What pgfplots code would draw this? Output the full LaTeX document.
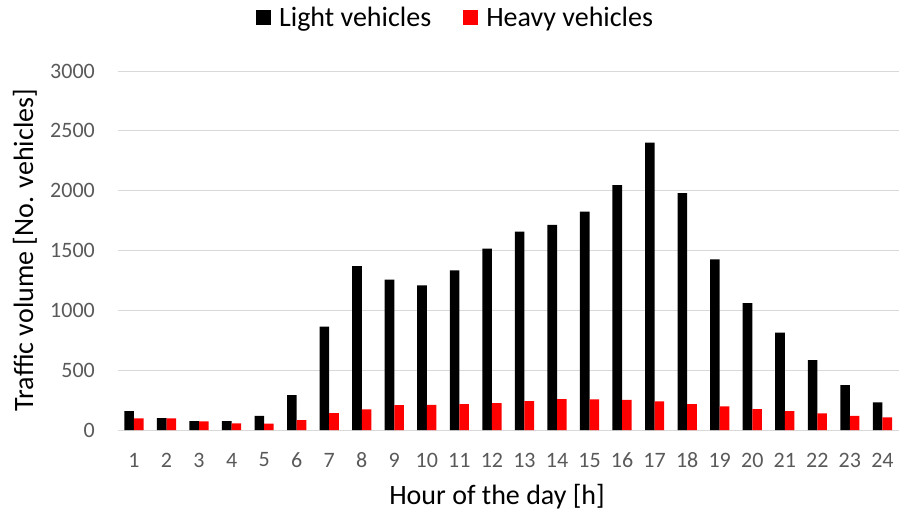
\documentclass[border=0pt]{standalone}
\usepackage{fontspec}
\setmainfont{Carlito}
\usepackage{pgfplots}
\pgfplotsset{compat=1.18}
\definecolor{gridgrey}{HTML}{D9D9D9}
\definecolor{ticktext}{HTML}{595959}
\definecolor{heavyred}{HTML}{FF0000}
\begin{document}
\begin{tikzpicture}
\path[use as bounding box] (-117.7bp,-92bp) rectangle (781.3bp,430bp);
\begin{axis}[
  at={(0,0)}, anchor=south west,
  scale only axis,
  width=781bp, height=359bp,
  xmin=0.5, xmax=24.5,
  ymin=0, ymax=3000,
  ytick={0,500,...,3000},
  xtick={1,...,24},
  ybar=0pt, bar width=9.6bp,
  axis x line*=bottom,
  axis y line*=left,
  y axis line style={draw=none},
  x axis line style={draw=gridgrey, line width=1bp},
  ymajorgrids, grid style={draw=gridgrey, line width=1bp},
  major tick length=0pt,
  /pgf/number format/assume math mode=true,
  /pgf/number format/1000 sep={},
  scaled y ticks=false,
  tick label style={font=\fontsize{22bp}{26bp}\selectfont, text=ticktext, inner sep=0pt},
  yticklabel style={anchor=east, xshift=-22.7bp},
  xticklabel style={anchor=center, yshift=-30bp},
  xlabel={Hour of the day [h]},
  ylabel={Traffic volume [No. vehicles]},
  label style={font=\fontsize{28bp}{32bp}\selectfont, inner sep=0pt},
  xlabel style={at={(axis description cs:0.4857,0)}, anchor=center, yshift=-67bp},
  ylabel style={at={(axis description cs:-0.1187,0.501)}, anchor=center},
  legend style={at={(axis description cs:0.4326,1.150)}, anchor=center, draw=none,
    font=\fontsize{28bp}{32bp}\selectfont, legend columns=2,
    /tikz/every even column/.append style={column sep=30bp},
    /tikz/every odd column/.append style={column sep=6bp},
    nodes={inner sep=2bp}},
  legend image code/.code={\fill[#1] (0bp,-7.5bp) rectangle (15bp,7.5bp);},
  clip=false,
]
\addplot[fill=black, draw=none] coordinates {
(1,158) (2,100) (3,75) (4,75) (5,119) (6,292) (7,864) (8,1369)
(9,1256) (10,1208) (11,1333) (12,1516) (13,1658) (14,1714) (15,1825) (16,2047)
(17,2402) (18,1980) (19,1425) (20,1061) (21,814) (22,583) (23,375) (24,231)};
\addplot[fill=heavyred, draw=none] coordinates {
(1,97) (2,97) (3,72) (4,56) (5,53) (6,83) (7,142) (8,172)
(9,207) (10,211) (11,217) (12,225) (13,242) (14,258) (15,255) (16,252)
(17,239) (18,217) (19,197) (20,175) (21,158) (22,139) (23,119) (24,106)};
\legend{Light vehicles, Heavy vehicles}
\end{axis}
\end{tikzpicture}
\end{document}
